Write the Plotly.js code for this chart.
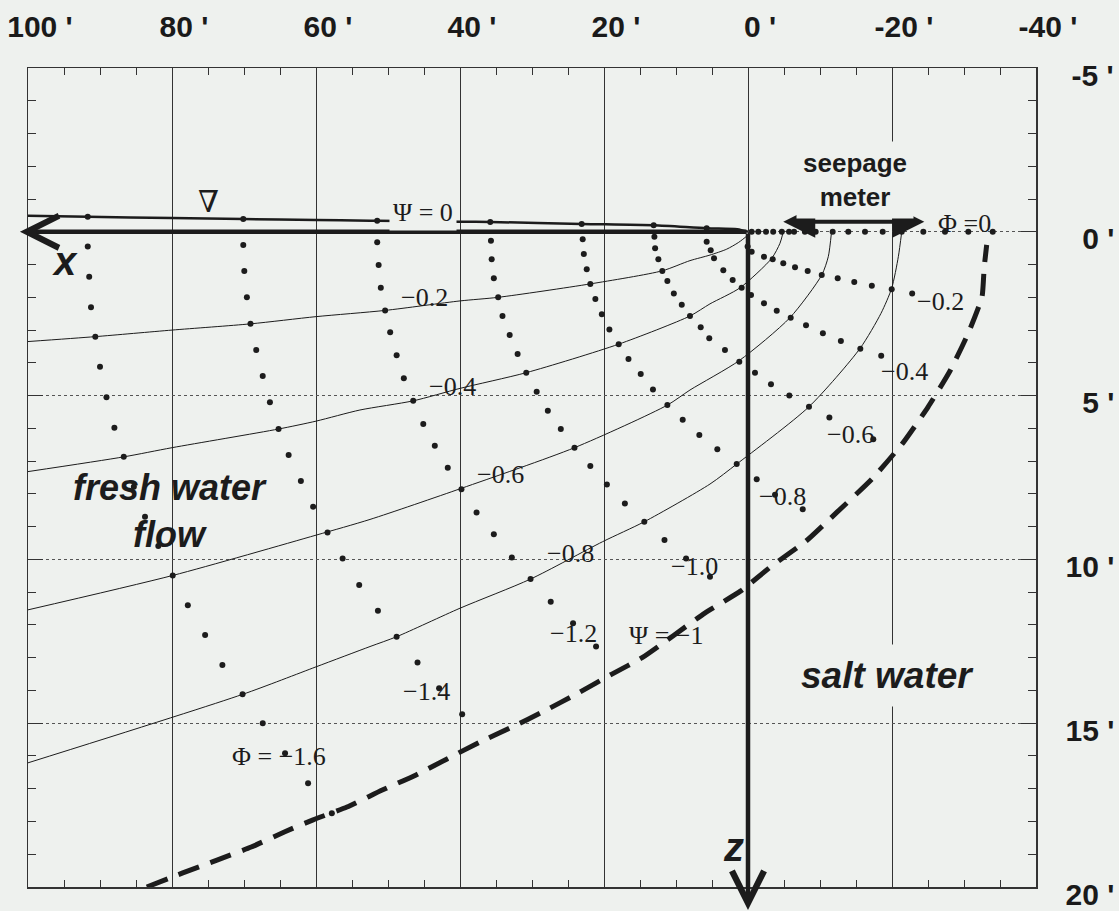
<!DOCTYPE html>
<html>
<head>
<meta charset="utf-8">
<script src="https://cdn.plot.ly/plotly-3.0.1.min.js"></script>
<style>html,body{margin:0;padding:0;background:#eef1ee;}</style>
</head>
<body>
<div id="chart" style="width:1119px;height:911px;"></div>
<script>
// ---------- axis tick labels ----------
const xTickVals = [100, 80, 60, 40, 20, 0, -20, -40];
const xTickText = ["100 '", "80 '", "60 '", "40 '", "20 '", "0 '", "-20 '", "-40 '"];
const yTickVals = [-5, 0, 5, 10, 15, 20];
const yTickText = ["\u2009-5 '", "\u20070 '", "\u20075 '", "10 '", "15 '", "20 '"];

// ---------- streamlines (Psi) ----------
const psi0X  = [100, 91.7, 80, 70.1, 60, 52.5, 51.5, 40, 35.8, 23.1, 13.1, 5.7, 1.5, 0];
const psi0Y  = [-0.49, -0.46, -0.42, -0.39, -0.36, -0.34, -0.34, -0.31, -0.30, -0.24, -0.20, -0.11, -0.08, 0];
const psi02X = [100, 90.65, 80, 69.1, 60, 50.4, 40, 34.7, 21.9, 11.9, 8.06, 5.28, 2.96, 1.35, 0.18, -0.28];
const psi02Y = [3.35, 3.20, 3.00, 2.81, 2.59, 2.40, 2.11, 2.00, 1.59, 1.19, 0.88, 0.71, 0.53, 0.33, 0.13, 0];
const psi04X = [100, 86.7, 80, 65.2, 60, 53.9, 46.5, 40, 30.8, 17.96, 8.06, 5.28, 1.11, -3.29, -4.44, -4.9];
const psi04Y = [7.32, 6.87, 6.59, 6.02, 5.78, 5.44, 5.16, 4.78, 4.30, 3.43, 2.57, 2.20, 1.71, 0.81, 0.35, 0];
const psi06X = [100, 79.9, 60, 52.5, 39.8, 24.1, 11.2, 8.06, 1.21, -5.83, -10.24, -11.15, -11.6];
const psi06Y = [11.54, 10.49, 9.26, 8.78, 7.83, 6.59, 5.29, 4.83, 3.93, 2.62, 1.32, 0.76, 0];
const psi08X = [100, 70.2, 60, 52.5, 48.8, 40, 30.2, 20.2, 14.4, 5.28, 1.57, -8.47, -15.56, -18.47, -19.96, -20.88, -21.35];
const psi08Y = [16.21, 14.12, 13.28, 12.66, 12.36, 11.49, 10.60, 9.46, 8.85, 7.70, 7.09, 5.34, 3.56, 2.49, 1.72, 0.76, 0];
// fresh / salt water interface (Psi = -1)
const ifaceX = [83.5, 78.5, 73.75, 69.0, 64.4, 60.4, 55.7, 50.8, 46.4, 41.8, 37.2, 32.8, 28.3, 23.6, 18.9, 14.7, 6.0, 1.0, -3.3, -8.06, -12.4, -17.2, -21.5, -25.0, -28.05, -30.6, -32.5, -32.8, -33.15];
const ifaceY = [20.0, 19.57, 19.18, 18.78, 18.32, 17.95, 17.56, 17.04, 16.61, 16.09, 15.57, 15.12, 14.63, 14.08, 13.50, 13.0, 11.64, 10.96, 10.2, 9.44, 8.55, 7.55, 6.45, 5.35, 4.25, 3.09, 1.99, 1.10, 0.4];

// ---------- equipotentials (Phi), dotted ----------
const phi16X = [91.7, 91.7, 91.5, 91.25, 90.65, 90.0, 89.1, 88.0, 86.7, 85.3, 83.75, 81.9, 79.9, 77.8, 75.4, 73.0, 70.2, 67.4, 64.3, 61.1, 57.8];
const phi16Y = [-0.46, 0.45, 1.37, 2.30, 3.20, 4.12, 5.05, 5.98, 6.87, 7.78, 8.70, 9.59, 10.49, 11.40, 12.31, 13.22, 14.12, 15.00, 15.92, 16.83, 17.75];
const phi14X = [70.1, 70.1, 69.96, 69.6, 69.1, 68.3, 67.4, 66.4, 65.2, 63.8, 62.1, 60.4, 58.4, 56.3, 54.0, 51.4, 48.8, 45.9, 42.9, 39.7];
const phi14Y = [-0.39, 0.40, 1.20, 2.00, 2.81, 3.61, 4.40, 5.20, 6.02, 6.81, 7.61, 8.39, 9.18, 9.97, 10.78, 11.57, 12.36, 13.15, 13.93, 14.73];
const phi12X = [51.5, 51.5, 51.3, 51.0, 50.4, 49.7, 48.8, 47.8, 46.5, 45.1, 43.5, 41.7, 39.8, 37.7, 35.3, 32.8, 30.2, 27.4, 24.3, 21.1];
const phi12Y = [-0.34, 0.32, 1.01, 1.71, 2.40, 3.07, 3.77, 4.47, 5.16, 5.87, 6.53, 7.20, 7.86, 8.57, 9.23, 9.94, 10.60, 11.29, 11.95, 12.66];
const phi10X = [35.8, 35.7, 35.6, 35.3, 34.7, 34.1, 33.1, 32.0, 30.8, 29.35, 27.8, 26.0, 24.1, 21.9, 19.6, 17.1, 14.4, 11.6, 8.6, 5.28];
const phi10Y = [-0.30, 0.27, 0.84, 1.42, 2.00, 2.57, 3.15, 3.73, 4.30, 4.88, 5.46, 6.02, 6.59, 7.15, 7.71, 8.29, 8.85, 9.41, 9.97, 10.53];
const phi08X = [23.1, 22.96, 22.8, 22.4, 21.9, 21.2, 20.3, 19.25, 17.96, 16.6, 14.9, 13.2, 11.2, 9.07, 6.76, 4.26, 1.57, -1.21, -3.75, -7.6];
const phi08Y = [-0.24, 0.23, 0.68, 1.14, 1.59, 2.05, 2.52, 2.98, 3.43, 3.88, 4.34, 4.81, 5.29, 5.74, 6.20, 6.64, 7.09, 7.55, 8.03, 8.47];
const phi06X = [13.1, 13.0, 12.9, 12.45, 11.9, 11.2, 10.3, 9.2, 8.06, 6.57, 5.38, 3.2, 1.21, -0.97, -3.19, -5.74, -8.47, -11.3, -17.4];
const phi06Y = [-0.20, 0.15, 0.50, 0.84, 1.20, 1.50, 1.88, 2.23, 2.57, 2.91, 3.25, 3.61, 3.97, 4.30, 4.65, 5.00, 5.34, 5.67, 6.33];
const phi04X = [5.74, 5.74, 5.18, 4.72, 3.43, 2.13, 0.88, -0.42, -2.22, -3.99, -5.93, -8.06, -10.4, -12.9, -15.6, -18.5];
const phi04Y = [-0.11, 0.30, 0.56, 0.81, 1.17, 1.47, 1.71, 1.93, 2.18, 2.41, 2.62, 2.85, 3.10, 3.33, 3.57, 3.78];
const phi02X = [0.05, -0.51, -2.22, -3.43, -4.9, -6.53, -8.29, -10.24, -12.46, -14.76, -17.2, -19.96, -22.8];
const phi02Y = [0.45, 0.61, 0.76, 0.84, 0.96, 1.08, 1.20, 1.32, 1.42, 1.53, 1.65, 1.75, 1.88];
const phi00X = [-0.51, -1.43, -2.5, -3.5, -4.7, -5.7, -6.4, -7.9, -9.4, -11.76, -13.93, -16.25, -18.71, -21.35, -24.35, -27.36, -30.6, -33.99];
const phi00Y = [0, 0, 0, 0, 0, 0, 0, 0, 0, 0, 0, 0, 0, 0, 0, 0, 0, 0];

// ---------- styling ----------
const BG = '#eef1ee';
const INK = '#1c1c1c';
const SANS = 'Liberation Sans, Arial, Helvetica, sans-serif';
const SERIF = 'Liberation Serif, Times New Roman, DejaVu Serif, serif';

const traces = [];
function addStream(x, y, w) {
  traces.push({type: 'scatter', mode: 'lines', x: x, y: y, hoverinfo: 'skip', showlegend: false,
    line: {color: INK, width: w, shape: 'spline', smoothing: 0.7}});
}
function addEquip(x, y) {
  traces.push({type: 'scatter', mode: 'markers', x: x, y: y, hoverinfo: 'skip', showlegend: false,
    marker: {color: INK, size: 6, line: {width: 0}}});
}
addStream(psi0X, psi0Y, 2.5);
addStream(psi02X, psi02Y, 1);
addStream(psi04X, psi04Y, 1);
addStream(psi06X, psi06Y, 1);
addStream(psi08X, psi08Y, 1);
traces.push({type: 'scatter', mode: 'lines', x: ifaceX, y: ifaceY, hoverinfo: 'skip', showlegend: false,
  line: {color: INK, width: 5, dash: '22px,12px', shape: 'spline', smoothing: 0.5}});
[[phi16X, phi16Y], [phi14X, phi14Y], [phi12X, phi12Y], [phi10X, phi10Y], [phi08X, phi08Y],
 [phi06X, phi06Y], [phi04X, phi04Y], [phi02X, phi02Y], [phi00X, phi00Y]].forEach(p => addEquip(p[0], p[1]));

function serifLabel(text, x, y, extra) {
  return Object.assign({text: text, x: x, y: y, xref: 'x', yref: 'y', showarrow: false,
    font: {family: SERIF, size: 26, color: INK}}, extra || {});
}
function sansLabel(text, x, y, size, italic, extra) {
  return Object.assign({text: text, x: x, y: y, xref: 'x', yref: 'y', showarrow: false,
    font: {family: SANS, size: size, color: INK, weight: 'bold', style: italic ? 'italic' : 'normal'}}, extra || {});
}

const annotations = [
  // x axis arrow (pointing left along the water line)
  {xref: 'paper', yref: 'y', x: -0.008, y: 0, axref: 'pixel', ayref: 'pixel', ax: 728, ay: 0,
   text: '', showarrow: true, arrowhead: 5, arrowsize: 1.4, arrowwidth: 4.5, arrowcolor: INK},
  // z axis arrow (pointing down)
  {xref: 'x', yref: 'paper', x: 0, y: -0.028, axref: 'pixel', ayref: 'pixel', ax: 0, ay: -678,
   text: '', showarrow: true, arrowhead: 5, arrowsize: 1.4, arrowwidth: 4.5, arrowcolor: INK},
  // seepage meter double arrow
  {xref: 'x', yref: 'y', x: -4.9, y: -0.31, axref: 'x', ayref: 'y', ax: -24.7, ay: -0.31,
   text: '', showarrow: true, arrowside: 'end+start', arrowhead: 2, startarrowhead: 2,
   arrowsize: 1.6, startarrowsize: 1.6, arrowwidth: 4, arrowcolor: INK},
  sansLabel('seepage<br>meter', -14.8, -1.58, 26, false, {bgcolor: BG, borderpad: 6}),
  sansLabel('fresh water<br>flow', 80.3, 8.52, 36, true),
  sansLabel('salt water', -19.4, 13.55, 37, true, {bgcolor: BG, borderpad: 10}),
  sansLabel('x', 94.9, 0.9, 40, true),
  sansLabel('z', 2.08, 18.79, 40, true),
  serifLabel('\u2207', 75, -0.91, {font: {family: SERIF, size: 30, color: INK}}),
  serifLabel('\u03A8 = 0', 45.2, -0.59, {bgcolor: BG, borderpad: 3}),
  serifLabel('\u22120.2', 45, 2.0),
  serifLabel('\u22120.4', 41.0, 4.73),
  serifLabel('\u22120.6', 34.35, 7.42),
  serifLabel('\u22120.8', 24.6, 9.81),
  serifLabel('\u03A8 = \u22121', 11.3, 12.31),
  serifLabel('\u03A6 =0', -30.1, -0.24),
  serifLabel('\u22120.2', -26.7, 2.13),
  serifLabel('\u22120.4', -21.7, 4.27),
  serifLabel('\u22120.6', -14.2, 6.2),
  serifLabel('\u22120.8', -4.76, 8.09),
  serifLabel('\u22121.0', 7.5, 10.22),
  serifLabel('\u22121.2', 24.2, 12.26),
  serifLabel('\u22121.4', 44.6, 14.04),
  serifLabel('\u03A6 = \u22121.6', 65.2, 16.02)
];

const tickFont = {family: SANS, size: 30, color: '#1a1a1a', weight: 'bold'};

const layout = {
  width: 1119, height: 911,
  margin: {l: 28, r: 83, t: 68, b: 24, pad: 0},
  paper_bgcolor: BG, plot_bgcolor: BG,
  showlegend: false,
  xaxis: {
    range: [100, -40], autorange: false, side: 'top',
    tickmode: 'array', tickvals: xTickVals, ticktext: xTickText,
    ticks: 'inside', ticklen: 7, tickwidth: 1, tickcolor: '#333',
    showgrid: true, gridcolor: '#333', gridwidth: 1, zeroline: false,
    showline: true, linecolor: '#333', linewidth: 1.5, mirror: 'all',
    minor: {dtick: 5, tick0: 0, ticks: 'inside', ticklen: 7, tickwidth: 1, tickcolor: '#333', showgrid: false},
    tickfont: tickFont, ticklabelstandoff: 18, ticklabelshift: -12, ticklabeloverflow: 'allow', fixedrange: true
  },
  yaxis: {
    range: [20, -5], autorange: false, side: 'right',
    tickmode: 'array', tickvals: yTickVals, ticktext: yTickText,
    ticks: 'inside', ticklen: 15, tickwidth: 1, tickcolor: '#333',
    showgrid: true, gridcolor: '#555', gridwidth: 1, griddash: 'dot', zeroline: false,
    showline: true, linecolor: '#333', linewidth: 1.5, mirror: 'all',
    minor: {dtick: 1, tick0: 0, ticks: 'inside', ticklen: 8, tickwidth: 1, tickcolor: '#333', showgrid: false},
    tickfont: tickFont, ticklabelstandoff: 22, ticklabelshift: -7, ticklabeloverflow: 'allow', fixedrange: true
  },
  annotations: annotations
};

Plotly.newPlot('chart', traces, layout, {staticPlot: true, displayModeBar: false});
</script>
</body>
</html>
